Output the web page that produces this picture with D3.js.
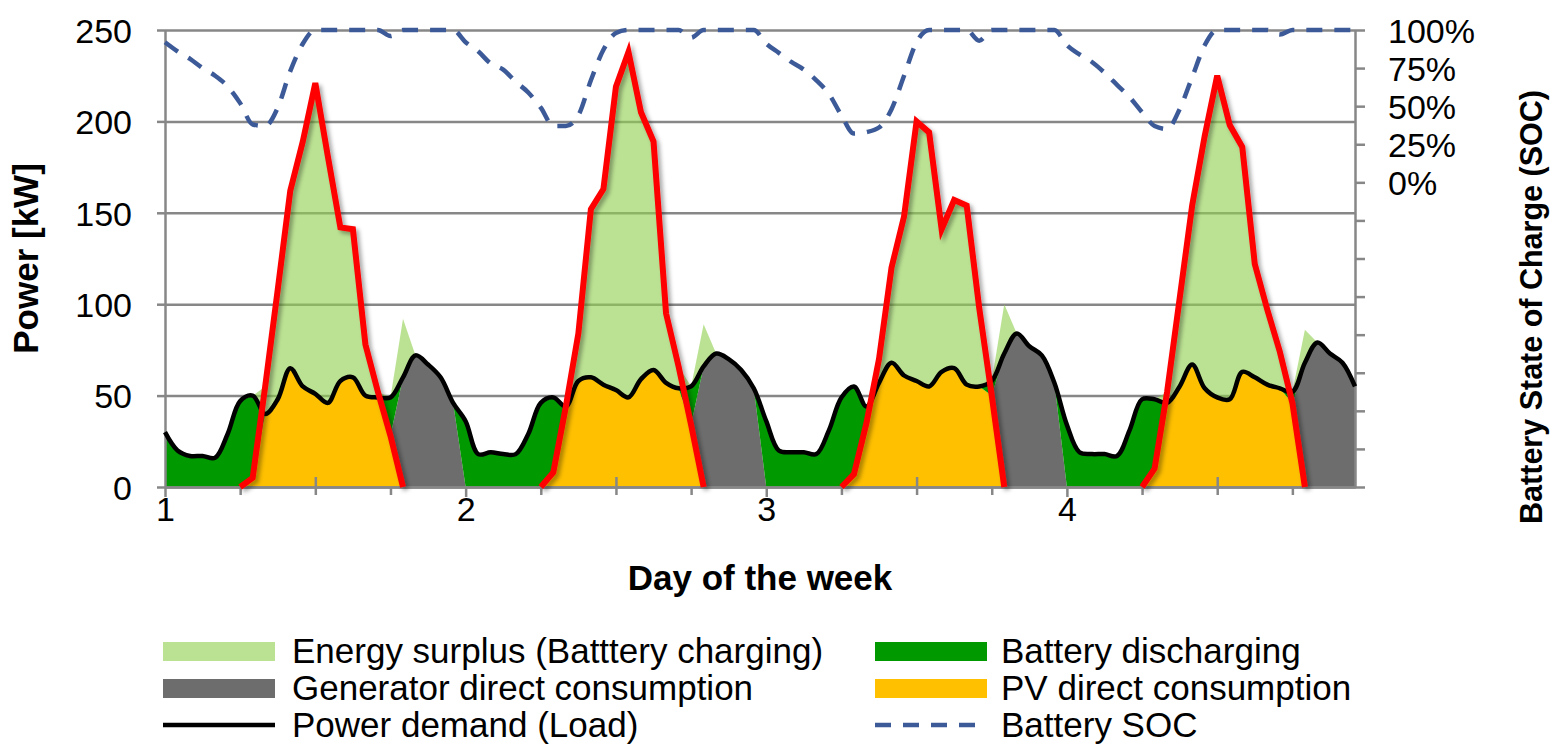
<!DOCTYPE html>
<html>
<head>
<meta charset="utf-8">
<script src="https://cdn.jsdelivr.net/npm/d3@7"></script>
<style>
body { margin: 0; background: #fff; }
svg text { font-family: "Liberation Sans", Arial, sans-serif; fill: #000; }
</style>
</head>
<body>
<script>
// hourly values, 4 days (hour 0 = start of day 1)
var load = [
    30, 20, 17, 17, 16, 29, 47, 50, 40, 48, 65, 55, 51, 46, 58, 60, 50, 49, 49, 60, 72, 67, 60, 46,
    36, 18, 19, 18, 18, 29, 46, 49, 44, 58, 60, 56, 53, 49, 59, 64, 57, 54, 55, 66, 73, 70, 64, 54,
    36, 20, 19, 19, 18, 31, 49, 55, 44, 57, 68, 61, 58, 55, 63, 65, 56, 55, 58, 73, 84, 77, 72, 57,
    34, 19, 18, 18, 17, 31, 48, 48, 46, 55, 67, 54, 49, 48, 63, 60, 56, 54, 52, 68, 79, 73, 68, 55
];
var pv = [
    null, null, null, null, null, null, 0, 5, 55, 108, 162, 189, 221, 181, 142, 141, 78, 52, 28, 0, null, null, null, null,
    null, null, null, null, null, null, 0, 8, 44, 84, 152, 163, 219, 238, 205, 189, 95, 66, 34, 0, null, null, null, null,
    null, null, null, null, null, null, 0, 7, 35, 70, 120, 148, 200, 194, 141, 157, 154, 98, 50, 0, null, null, null, null,
    null, null, null, null, null, null, 0, 10, 52, 103, 154, 192, 225, 198, 186, 122, 97, 74, 46, 0, null, null, null, null
];
var generator = [
    0, 0, 0, 0, 0, 0, 0, 0, 0, 0, 0, 0, 0, 0, 0, 0, 0, 0, 0, 92, 72, 67, 60, 46,
    0, 0, 0, 0, 0, 0, 0, 0, 0, 0, 0, 0, 0, 0, 0, 0, 0, 0, 0, 89, 73, 70, 64, 54,
    0, 0, 0, 0, 0, 0, 0, 0, 0, 0, 0, 0, 0, 0, 0, 0, 0, 0, 0, 100, 84, 77, 72, 57,
    0, 0, 0, 0, 0, 0, 0, 0, 0, 0, 0, 0, 0, 0, 0, 0, 0, 0, 0, 86, 79, 73, 68, 55
];
var soc = [
    92, 86, 81, 75, 70, 63, 52, 38, 37, 49, 73, 91, 100, 100, 100, 100, 100, 100, 96, 100, 100, 100, 100, 100,
    92, 86, 78, 74, 66, 59, 49, 37, 37, 44, 67, 87, 98, 100, 100, 100, 100, 100, 95, 100, 100, 100, 100, 100,
    91, 85, 79, 74, 67, 58, 44, 32, 33, 36, 48, 70, 92, 100, 100, 100, 100, 93, 100, 100, 100, 100, 100, 100,
    90, 84, 79, 72, 64, 56, 46, 37, 35, 48, 69, 90, 100, 100, 100, 100, 100, 97, 100, 100, 100, 100, 100, 100
];
var dayTicks = [0, 24, 48, 72];
var dayLabels = ["1", "2", "3", "4"];
var powerTicks = [0, 50, 100, 150, 200, 250];
var socTicks = [-200, -175, -150, -125, -100, -75, -50, -25, 0, 25, 50, 75, 100];
var legendLabels = [
    "Energy surplus (Batttery charging)", "Battery discharging",
    "Generator direct consumption", "PV direct consumption",
    "Power demand (Load)", "Battery SOC"
];

var width = 1556, height = 745;
var plotLeft = 165, plotRight = 1355, plotTop = 30, plotBottom = 487;
var gray = "#878787";
var colors = {
    surplus: "#92D050", battery: "#009900", generator: "#6D6D6D",
    pvDirect: "#FFC000", load: "#000", pv: "#FF0000", soc: "#3D5A98"
};

var x = d3.scaleLinear().domain([0, 95]).range([plotLeft, plotRight]);
var y = d3.scaleLinear().domain([0, 250]).range([plotBottom, plotTop]);
var ySoc = d3.scaleLinear().domain([-200, 100]).range([plotBottom, plotTop]);

var svg = d3.select("body").append("svg")
    .attr("width", width)
    .attr("height", height);

var filter = svg.append("defs").append("filter")
    .attr("id", "shadow")
    .attr("x", "-10%").attr("y", "-10%")
    .attr("width", "120%").attr("height", "120%");
filter.append("feDropShadow")
    .attr("dx", 3).attr("dy", 3).attr("stdDeviation", 2)
    .attr("flood-color", "#000").attr("flood-opacity", 0.35);

// split load into stacked parts
var rows = load.map(function (l, h) {
    var p = pv[h] || 0;
    var g = generator[h];
    var pvDirect = Math.min(p, l);
    var genDirect = Math.min(g, l - pvDirect);
    return {
        h: h,
        pvDirect: pvDirect,
        generator: genDirect,
        battery: l - pvDirect - genDirect,
        surplus: Math.max(0, p - l) + Math.max(0, g - genDirect)
    };
});
var keys = ["pvDirect", "generator", "battery", "surplus"];
var series = d3.stack().keys(keys)(rows);

// gridlines
svg.append("g")
    .attr("transform", "translate(" + plotLeft + ",0)")
    .call(d3.axisLeft(y).tickValues(powerTicks.slice(1)).tickSize(-(plotRight - plotLeft)).tickFormat(""))
    .call(function (g) { g.select(".domain").remove(); })
    .selectAll("line")
    .attr("stroke", gray)
    .attr("stroke-width", 2.5);

var area = d3.area()
    .x(function (d) { return x(d.data.h); })
    .y0(function (d) { return y(d[0]); })
    .y1(function (d) { return y(d[1]); });

svg.append("g").selectAll("path")
    .data(series)
    .enter()
    .append("path")
    .attr("fill", function (d) { return colors[d.key]; })
    .attr("fill-opacity", function (d) { return d.key == "surplus" ? 0.62 : 1; })
    .attr("d", area);

function styleAxis(g) {
    g.selectAll(".domain, line").attr("stroke", gray).attr("stroke-width", 2.5);
    g.selectAll("text").attr("font-size", 34).attr("font-family", "Liberation Sans, Arial, sans-serif");
}

// left axis
svg.append("g")
    .attr("transform", "translate(" + plotLeft + ",0)")
    .call(d3.axisLeft(y).tickValues(powerTicks).tickSize(8).tickSizeOuter(0))
    .call(styleAxis)
    .selectAll("text")
    .attr("x", -33)
    .attr("dy", "0.36em");

// right axis
svg.append("g")
    .attr("transform", "translate(" + plotRight + ",0)")
    .call(d3.axisRight(ySoc).tickValues(socTicks).tickSize(10).tickSizeOuter(0)
        .tickFormat(function (d) { return d >= 0 ? d + "%" : ""; }))
    .call(styleAxis)
    .selectAll("text")
    .attr("x", 33)
    .attr("dy", "0.36em");

// bottom axis: days, 6h minor ticks, noon cross ticks
var minorTicks = d3.range(6, 96, 6).filter(function (h) { return h % 24 != 0; });
svg.append("g")
    .attr("transform", "translate(0," + plotBottom + ")")
    .call(d3.axisBottom(x).tickValues(minorTicks).tickSize(8).tickSizeOuter(0).tickFormat(""))
    .call(styleAxis);
svg.append("g")
    .attr("transform", "translate(0," + plotBottom + ")")
    .call(d3.axisBottom(x).tickValues(minorTicks.filter(function (h) { return h % 24 == 12; }))
        .tickSize(-10).tickSizeOuter(0).tickFormat(""))
    .call(styleAxis)
    .call(function (g) { g.select(".domain").remove(); });
svg.append("g")
    .attr("transform", "translate(0," + plotBottom + ")")
    .call(d3.axisBottom(x).tickValues(dayTicks).tickSize(10).tickSizeOuter(0)
        .tickFormat(function (d, i) { return dayLabels[i]; }))
    .call(styleAxis)
    .selectAll("text")
    .attr("y", 34)
    .attr("dy", 0);

// load line
svg.append("path")
    .datum(load)
    .attr("fill", "none")
    .attr("stroke", colors.load)
    .attr("stroke-width", 4.5)
    .attr("stroke-linejoin", "round")
    .attr("d", d3.line()
        .x(function (d, i) { return x(i); })
        .y(function (d) { return y(d); })
        .curve(d3.curveCatmullRom.alpha(0.5)));

// PV line
svg.append("path")
    .datum(pv)
    .attr("fill", "none")
    .attr("stroke", colors.pv)
    .attr("stroke-width", 6)
    .attr("stroke-linejoin", "miter")
    .attr("stroke-miterlimit", 4)
    .attr("filter", "url(#shadow)")
    .attr("d", d3.line()
        .defined(function (d) { return d != null; })
        .x(function (d, i) { return x(i); })
        .y(function (d) { return y(d); }));

// SOC line
svg.append("path")
    .datum(soc)
    .attr("fill", "none")
    .attr("stroke", colors.soc)
    .attr("stroke-width", 4.5)
    .attr("stroke-dasharray", "16 12")
    .attr("d", d3.line()
        .x(function (d, i) { return x(i); })
        .y(function (d) { return ySoc(d); })
        .curve(d3.curveMonotoneX));

// axis titles
svg.append("text")
    .attr("transform", "translate(38," + (plotTop + plotBottom) / 2 + ") rotate(-90)")
    .attr("text-anchor", "middle")
    .attr("font-size", 35)
    .attr("font-weight", "bold")
    .text("Power [kW]");
svg.append("text")
    .attr("transform", "translate(1542,307) rotate(-90)")
    .attr("text-anchor", "middle")
    .attr("font-size", 30.5)
    .attr("font-weight", "bold")
    .text("Battery State of Charge (SOC)");
svg.append("text")
    .attr("x", (plotLeft + plotRight) / 2)
    .attr("y", 590)
    .attr("text-anchor", "middle")
    .attr("font-size", 35)
    .attr("font-weight", "bold")
    .text("Day of the week");

// legend
var legendStyles = [
    {type: "rect", color: colors.surplus, opacity: 0.62},
    {type: "rect", color: colors.battery},
    {type: "rect", color: colors.generator},
    {type: "rect", color: colors.pvDirect},
    {type: "line", color: colors.load},
    {type: "dash", color: colors.soc}
];
var colX = [163, 875];
var rowY = [651, 688, 725];
var legend = svg.append("g").selectAll("g")
    .data(legendLabels)
    .enter()
    .append("g")
    .attr("transform", function (d, i) {
        return "translate(" + colX[i % 2] + "," + rowY[Math.floor(i / 2)] + ")";
    });
legend.each(function (d, i) {
    var g = d3.select(this);
    var s = legendStyles[i];
    if (s.type == "rect") {
        g.append("rect")
            .attr("x", 0).attr("y", -9)
            .attr("width", 112).attr("height", 19)
            .attr("fill", s.color)
            .attr("fill-opacity", s.opacity || 1);
    } else {
        g.append("line")
            .attr("x1", 0).attr("x2", 112)
            .attr("stroke", s.color)
            .attr("stroke-width", 4.5)
            .attr("stroke-dasharray", s.type == "dash" ? "16 12" : null);
    }
    g.append("text")
        .attr("x", i % 2 == 0 ? 129 : 126)
        .attr("y", 12)
        .attr("font-size", 35)
        .text(d);
});
</script>
</body>
</html>
